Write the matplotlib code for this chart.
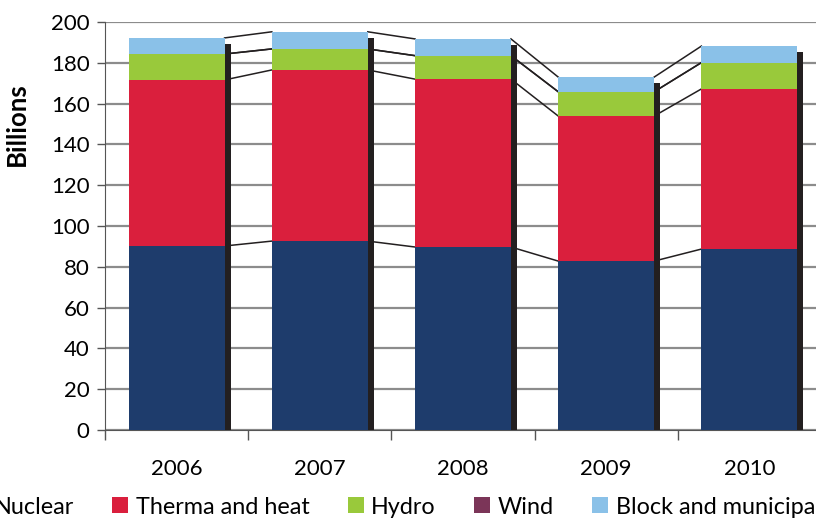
import matplotlib.pyplot as plt
import numpy as np

plt.rcParams['font.family'] = ['Lato', 'DejaVu Sans']

years = ['2006', '2007', '2008', '2009', '2010']
nuclear = [90.2, 92.6, 89.7, 82.8, 88.7]
therma = [81.4, 83.9, 82.3, 71.1, 78.5]
hydro = [12.7, 10.3, 11.5, 11.9, 12.9]
wind = [0.0, 0.0, 0.0, 0.0, 0.0]
block = [7.9, 8.4, 8.2, 7.2, 8.1]
labels = ['Nuclear', 'Therma and heat', 'Hydro', 'Wind', 'Block and municipal']
colors = ['#1E3C6C', '#DA1F3D', '#99C93B', '#7B3558', '#8AC1E8']

series = [nuclear, therma, hydro, wind, block]
x = np.arange(len(years))
w = 0.67      # bar width
d = 0.042     # depth strip on the right
drop = 3.0    # depth strip sits a bit lower

fig = plt.figure(figsize=(8.16, 5.19), dpi=100)
ax = fig.add_axes([105/816, 89/519, 716/816, 408/519])

bottom = np.zeros(len(years))
tops = []
handles = []
for vals, c, lab in zip(series, colors, labels):
    v = np.array(vals)
    h = ax.bar(x, v, w, bottom=bottom, color=c, label=lab, zorder=3, linewidth=0)
    handles.append(h)
    bottom = bottom + v
    tops.append(bottom.copy())

# connector lines between the stacks
for lvl in tops:
    for i in range(len(years) - 1):
        ax.plot([x[i] + w/2, x[i+1] - w/2], [lvl[i], lvl[i+1]],
                color='#231F20', lw=1.1, zorder=2)

# dark side of each bar
ax.bar(x + w/2 + d/2, bottom - drop, d, color='#231F20', zorder=4, linewidth=0)

ax.set_xlim(-0.5, 4.5)
ax.set_ylim(0, 200)
ax.set_yticks(np.arange(0, 201, 20))
ax.yaxis.grid(True, color='#8C8C8C', lw=1.6, zorder=0)
ax.set_axisbelow(True)

ax.set_xticks(x)
ax.set_xticklabels(years, fontsize=16)
ax.set_xticks(np.arange(-0.5, 4.6, 1), minor=True)
ax.tick_params(axis='x', which='major', length=0, pad=21)
ax.tick_params(axis='x', which='minor', length=7, width=1, color='#555555')
ax.tick_params(axis='y', length=6, width=1, color='#555555', labelsize=16, pad=5)

for s in ['top', 'right']:
    ax.spines[s].set_visible(False)
ax.spines['left'].set_color('#555555')
ax.spines['bottom'].set_color('#555555')

fig.text(17/816, 1 - 124/519, 'Billions', rotation=90, fontsize=18.5,
         fontweight='bold', ha='center', va='center')

fig.legend(handles=handles, labels=labels, ncol=5, loc='center left',
           bbox_to_anchor=(-30/816, 12/519), frameon=False, fontsize=16.8,
           handlelength=0.69, handleheight=0.69, handletextpad=0.32,
           columnspacing=1.64, borderpad=0, borderaxespad=0)

plt.savefig('out.png', dpi=100)
